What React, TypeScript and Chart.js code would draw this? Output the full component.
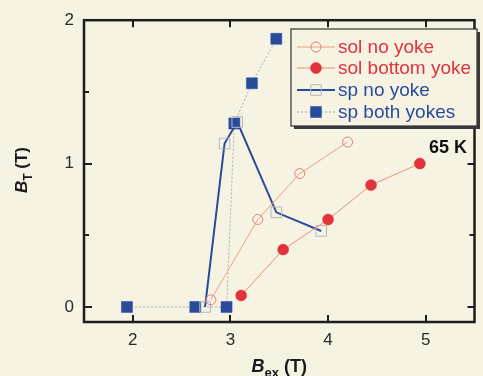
import React, { useEffect, useRef } from "react";
import { Chart, registerables } from "chart.js";
Chart.register(...registerables);

// ---- data ----
const solNoYokeX = [2.8, 3.28, 3.71, 4.2];
const solNoYokeY = [0.05, 0.61, 0.93, 1.15];
const solBottomX = [3.11, 3.54, 4.0, 4.44, 4.94];
const solBottomY = [0.08, 0.4, 0.61, 0.85, 1.0];
const spNoYokeX = [2.74, 2.94, 3.07, 3.47, 3.93];
const spNoYokeY = [0, 1.14, 1.29, 0.66, 0.53];
const spBothX = [1.94, 2.64, 2.96, 3.04, 3.22, 3.47];
const spBothY = [0, 0, 0, 1.28, 1.56, 1.87];
const seriesNames = ["sol no yoke", "sol bottom yoke", "sp no yoke", "sp both yokes"];
const xTickValues = [2, 3, 4, 5];
const yTickValues = [0, 1, 2];
const yMinorValues = [0.5, 1.5];
const annotation = "65 K";

const RED = "#e2323c";
const BLUE = "#2a4a9c";
const BG = "#f7f3e2";
const FONT = "'Liberation Sans', Arial, sans-serif";

const pts = (xs: number[], ys: number[]) => xs.map((x, i) => ({ x, y: ys[i] }));

const decorPlugin = {
  id: "decor",
  beforeDraw(chart: any) {
    const { ctx, width, height } = chart;
    ctx.save();
    ctx.fillStyle = BG;
    ctx.fillRect(0, 0, width, height);
    ctx.restore();
  },
  afterDatasetsDraw(chart: any) {
    const { ctx, chartArea: a, scales } = chart;
    const xs = scales.x, ys = scales.y;
    ctx.save();
    // frame
    ctx.strokeStyle = "#1e1e1e";
    ctx.lineWidth = 2.5;
    ctx.strokeRect(a.left, a.top, a.right - a.left, a.bottom - a.top);
    ctx.lineWidth = 2;
    ctx.beginPath();
    xTickValues.forEach((v) => {
      const px = Math.round(xs.getPixelForValue(v));
      ctx.moveTo(px, a.bottom); ctx.lineTo(px, a.bottom - 7);
      ctx.moveTo(px, a.top); ctx.lineTo(px, a.top + 7);
    });
    yTickValues.forEach((v) => {
      const py = Math.round(ys.getPixelForValue(v));
      ctx.moveTo(a.left, py); ctx.lineTo(a.left + 8, py);
      ctx.moveTo(a.right, py); ctx.lineTo(a.right - 7, py);
    });
    yMinorValues.forEach((v) => {
      const py = Math.round(ys.getPixelForValue(v));
      ctx.moveTo(a.left, py); ctx.lineTo(a.left + 5, py);
      ctx.moveTo(a.right, py); ctx.lineTo(a.right - 5, py);
    });
    ctx.stroke();

    // axis titles
    ctx.fillStyle = "#1a1a1a";
    ctx.textBaseline = "alphabetic";
    const xt1 = "B", xt2 = "ex", xt3 = " (T)";
    ctx.font = `italic bold 18px ${FONT}`;
    const w1 = ctx.measureText(xt1).width;
    ctx.font = `bold 13px ${FONT}`;
    const w2 = ctx.measureText(xt2).width;
    ctx.font = `bold 18px ${FONT}`;
    const w3 = ctx.measureText(xt3).width;
    const sx = (a.left + a.right) / 2 - (w1 + w2 + w3) / 2;
    const by = 372;
    ctx.font = `italic bold 18px ${FONT}`;
    ctx.fillText(xt1, sx, by);
    ctx.font = `bold 13px ${FONT}`;
    ctx.fillText(xt2, sx + w1, by + 5);
    ctx.font = `bold 18px ${FONT}`;
    ctx.fillText(xt3, sx + w1 + w2, by);

    ctx.save();
    ctx.translate(27, 170);
    ctx.rotate(-Math.PI / 2);
    const yt1 = "B", yt2 = "T", yt3 = " (T)";
    ctx.font = `italic bold 17px ${FONT}`;
    const v1 = ctx.measureText(yt1).width;
    ctx.font = `bold 12px ${FONT}`;
    const v2 = ctx.measureText(yt2).width;
    ctx.font = `bold 17px ${FONT}`;
    const v3 = ctx.measureText(yt3).width;
    const s = -(v1 + v2 + v3) / 2;
    ctx.font = `italic bold 17px ${FONT}`;
    ctx.fillText(yt1, s, 0);
    ctx.font = `bold 12px ${FONT}`;
    ctx.fillText(yt2, s + v1, 5);
    ctx.font = `bold 17px ${FONT}`;
    ctx.fillText(yt3, s + v1 + v2, 0);
    ctx.restore();

    // annotation
    ctx.font = `bold 18px ${FONT}`;
    ctx.textAlign = "right";
    ctx.textBaseline = "middle";
    ctx.fillStyle = "#111";
    ctx.fillText(annotation, 467, 148);

    // legend box
    const lx = 291, ly = 29, lw = 186, lh = 97;
    ctx.fillStyle = "#3a3a3a";
    ctx.fillRect(lx + 3, ly + 3, lw, lh);
    ctx.fillStyle = BG;
    ctx.fillRect(lx, ly, lw, lh);
    ctx.strokeStyle = "#333";
    ctx.lineWidth = 1.2;
    ctx.strokeRect(lx, ly, lw, lh);

    const rows = [47, 68, 90, 112];
    chart.data.datasets.forEach((ds: any, i: number) => {
      const y = rows[i];
      ctx.save();
      ctx.strokeStyle = ds.borderColor;
      ctx.lineWidth = ds.borderWidth;
      ctx.setLineDash(ds.borderDash || []);
      ctx.beginPath();
      ctx.moveTo(297, y);
      ctx.lineTo(335, y);
      ctx.stroke();
      ctx.setLineDash([]);
      const r = ds.pointRadius;
      ctx.fillStyle = ds.pointBackgroundColor;
      ctx.strokeStyle = ds.pointBorderColor;
      ctx.lineWidth = ds.pointBorderWidth;
      ctx.beginPath();
      if (ds.pointStyle === "rect") {
        const h = Math.SQRT1_2 * r;
        ctx.rect(316 - h, y - h, 2 * h, 2 * h);
      } else {
        ctx.arc(316, y, r, 0, Math.PI * 2);
      }
      ctx.fill();
      ctx.stroke();
      ctx.restore();
      ctx.fillStyle = i < 2 ? RED : BLUE;
      ctx.font = `19px ${FONT}`;
      ctx.textAlign = "left";
      ctx.textBaseline = "middle";
      ctx.fillText(seriesNames[i], 338, y + 1);
    });
    ctx.restore();
  },
};

export default function App() {
  const ref = useRef<HTMLCanvasElement>(null);
  useEffect(() => {
    document.body.style.margin = "0";
    document.body.style.background = BG;
    const chart = new Chart(ref.current!, {
      type: "scatter",
      data: {
        datasets: [
          {
            label: seriesNames[0],
            data: pts(solNoYokeX, solNoYokeY),
            showLine: true,
            borderColor: "#eaa088",
            borderWidth: 1,
            pointStyle: "circle",
            pointRadius: 5,
            pointBackgroundColor: "rgba(0,0,0,0)",
            pointBorderColor: "#e0807a",
            pointBorderWidth: 1,
          },
          {
            label: seriesNames[1],
            data: pts(solBottomX, solBottomY),
            showLine: true,
            borderColor: "#e99078",
            borderWidth: 1,
            pointStyle: "circle",
            pointRadius: 5.5,
            pointBackgroundColor: RED,
            pointBorderColor: RED,
            pointBorderWidth: 0.5,
          },
          {
            label: seriesNames[2],
            data: pts(spNoYokeX, spNoYokeY),
            showLine: true,
            borderColor: BLUE,
            borderWidth: 2,
            pointStyle: "rect",
            pointRadius: 7.5,
            pointBackgroundColor: "rgba(0,0,0,0)",
            pointBorderColor: "#b4b6c0",
            pointBorderWidth: 1,
          },
          {
            label: seriesNames[3],
            data: pts(spBothX, spBothY),
            showLine: true,
            borderColor: "#a8abbc",
            borderWidth: 1,
            borderDash: [2, 2],
            pointStyle: "rect",
            pointRadius: 7.8,
            pointBackgroundColor: BLUE,
            pointBorderColor: BLUE,
            pointBorderWidth: 0.5,
          },
        ],
      },
      options: {
        animation: false,
        responsive: false,
        layout: { padding: { top: 20, right: 5, left: 0, bottom: 0 } },
        plugins: { legend: { display: false }, tooltip: { enabled: false } },
        elements: { line: { tension: 0 } },
        scales: {
          x: {
            type: "linear",
            min: 1.5,
            max: 5.5,
            grid: { display: false, drawTicks: false },
            border: { display: false },
            afterBuildTicks: (sc: any) => {
              sc.ticks = xTickValues.map((v) => ({ value: v }));
            },
            afterFit: (sc: any) => {
              sc.height = 54;
            },
            ticks: {
              padding: 8,
              color: "#2a2a2a",
              font: { family: FONT, size: 17 },
              callback: (v: any) => String(v),
            },
          },
          y: {
            type: "linear",
            min: -0.105,
            max: 2,
            grid: { display: false, drawTicks: false },
            border: { display: false },
            afterBuildTicks: (sc: any) => {
              sc.ticks = yTickValues.map((v) => ({ value: v }));
            },
            afterFit: (sc: any) => {
              sc.width = 84;
            },
            ticks: {
              padding: 10,
              color: "#2a2a2a",
              font: { family: FONT, size: 17 },
              callback: (v: any) => String(v),
            },
          },
        },
      },
      plugins: [decorPlugin],
    } as any);
    return () => chart.destroy();
  }, []);
  return (
    <div style={{ width: 483, height: 376, background: BG }}>
      <canvas ref={ref} width={483} height={376} style={{ display: "block" }} />
    </div>
  );
}
